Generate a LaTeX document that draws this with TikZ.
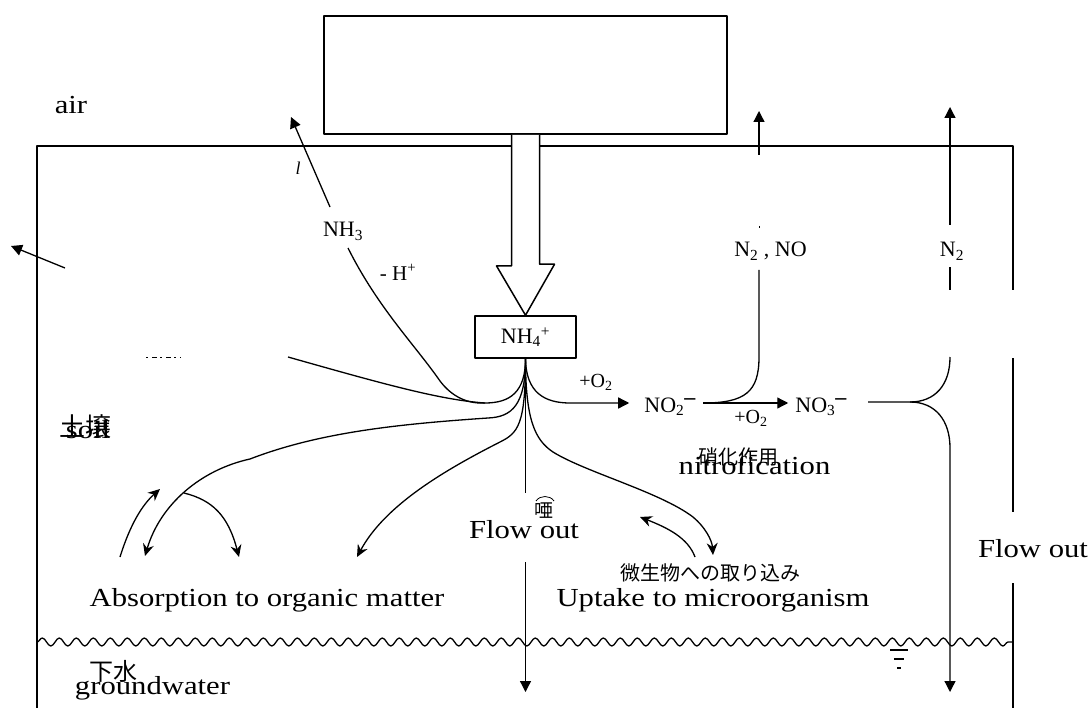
\documentclass[tikz,border=0pt]{standalone}
\usepackage{fontspec}
\setmainfont{Liberation Serif}
\newfontfamily\widefont[FakeStretch=1.18]{Liberation Serif}
\newfontfamily\jpfont{Noto Sans CJK JP}
\usetikzlibrary{arrows.meta,decorations.pathmorphing}

\tikzset{
  biglabel/.style={font=\widefont\fontsize{26}{28}\selectfont, inner sep=0pt},
  chemlabel/.style={font=\fontsize{22}{24}\selectfont, inner sep=0pt},
  smalllabel/.style={font=\fontsize{20}{22}\selectfont, inner sep=0pt},
  jplabel/.style={font=\jpfont\fontsize{20}{22}\selectfont, inner sep=0pt},
  flow/.style={line width=1.3pt},
  tri/.style={flow, -{Triangle[length=11pt,width=11pt]}},
  stk/.style={flow, -{Stealth[length=12pt,width=11pt,inset=4pt]}},
}

\begin{document}
\begin{tikzpicture}[x=1pt, y=-1pt, line join=round]
    \useasboundingbox (0,0) rectangle (1091,708);

    % 1. 土壌の枠と地下水面
    \draw[line width=1.5pt] (37,708) -- (37,146) -- (1013,146) -- (1013,290);
    \draw[line width=1.5pt] (1013,358) -- (1013,512);
    \draw[line width=1.5pt] (1013,583) -- (1013,708);
    \draw[flow, decorate, decoration={snake, segment length=17pt, amplitude=4pt}] (37,642) -- (1013,642);
    \draw[line width=2pt] (890,650) -- (908,650);
    \draw[line width=2pt] (894,659) -- (904,659);
    \draw[line width=2pt] (897,668) -- (901,668);

    % 2. 箱と白抜き矢印
    \node[draw, line width=1.8pt, minimum width=403pt, minimum height=118pt, inner sep=0pt] (source) at (525.5,75) {};
    \node[draw, line width=1.5pt, minimum width=101pt, minimum height=42pt, chemlabel] (ammonium) at (525.5,337) {NH\textsubscript{4}\textsuperscript{+}};
    \draw[line width=1.5pt, fill=white] ([xshift=-14pt]source.south) -- ++(0,131) -- ++(-15,0)
        -- (ammonium.north) -- ++(29,-51) -- ++(-15,0) -- ([xshift=14pt]source.south);

    % 3. 座標
    \coordinate (root) at (ammonium.south);
    \coordinate (fA) at (485,403);
    \coordinate (fB) at (488,418);
    \coordinate (nh3lo) at (348,248);
    \coordinate (nh3hi) at (330,207);
    \coordinate (nh3tip) at (291,117);
    \coordinate (westend) at (288,357);
    \coordinate (westhi) at (65,268);
    \coordinate (westtip) at (11,246);
    \coordinate (absB) at (184,493);
    \coordinate (tipA) at (145,556);
    \coordinate (tipB) at (239,557);
    \coordinate (upS) at (120,557);
    \coordinate (upT) at (160,489);
    \coordinate (tipC) at (357,557);
    \coordinate (down1) at (525.5,493);
    \coordinate (down2) at (525.5,562);
    \coordinate (downtip) at (525.5,692);
    \coordinate (tipD) at (713,555);
    \coordinate (backS) at (695,557);
    \coordinate (backT) at (640,517);
    \coordinate (nitS) at (570,403);
    \coordinate (nitE) at (703,403);
    \coordinate (dnTop) at (759,270);
    \coordinate (dnS) at (759,155);
    \coordinate (dnTip) at (759,111);
    \coordinate (nitrE) at (868,402);
    \coordinate (splitR) at (910,402);
    \coordinate (rUp) at (950,357);
    \coordinate (rDown) at (950,448);
    \coordinate (rTip) at (950,692);
    \coordinate (n2a) at (950,290);
    \coordinate (n2b) at (950,267);
    \coordinate (n2c) at (950,225);
    \coordinate (n2tip) at (950,107);

    % 4. 文字
    \node[biglabel, anchor=base] (air) at (71,114) {air};
    \node[smalllabel, anchor=base, font=\itshape\fontsize{18}{20}\selectfont] (mark) at (298,175) {l};
    \node[chemlabel, anchor=base] (nh3) at (343,237) {NH\textsubscript{3}};
    \node[smalllabel, anchor=base, font=\fontsize{21}{22}\selectfont] (deprot) at (398,280) {- H\textsuperscript{+}};
    \node[smalllabel, anchor=base] (oxA) at (596,387) {+O\textsubscript{2}};
    \node[smalllabel, anchor=base] (oxB) at (751,423) {+O\textsubscript{2}};
    \node[chemlabel, anchor=base] (nitrite) at (670,412) {NO\textsubscript{2}\raisebox{8pt}{\textbf{–}}};
    \node[chemlabel, anchor=base] (nitrate) at (821,412) {NO\textsubscript{3}\raisebox{8pt}{\textbf{–}}};
    \node[chemlabel, anchor=base] (n2no) at (770.5,257) {N\textsubscript{2} , NO};
    \node[chemlabel, anchor=base] (n2) at (952,257) {N\textsubscript{2}};
    \node[jplabel, font=\jpfont\fontsize{26}{28}\selectfont] (soiljp) at (85,427) {土壌};
    \node[biglabel, anchor=base] (soil) at (88,438) {soil};
    \node[biglabel, anchor=base] (nitrif) at (754.5,474) {nitrofication};
    \node[jplabel] (nitrifjp) at (738,457) {硝化作用};
    \node[jplabel] (uptakejp) at (710,573) {微生物への取り込み};
    \node[jplabel, font=\jpfont\fontsize{19}{20}\selectfont] (flowjp) at (544,511) {唖};
    \node[biglabel, anchor=base] (flowC) at (524,538) {Flow out};
    \node[biglabel, anchor=base] (flowR) at (1033,557) {Flow out};
    \node[biglabel, anchor=base] (absorb) at (267,606) {Absorption to organic matter};
    \node[biglabel, anchor=base] (uptake) at (713,606) {Uptake to microorganism};
    \node[jplabel, font=\jpfont\fontsize{24}{26}\selectfont] (gwjp) at (113,671) {下水};
    \node[biglabel, anchor=base] (gw) at (152.5,694) {groundwater};
    \draw[line width=0.8pt] (536,501) .. controls (540,495) and (550,495) .. (554,501);
    \draw[line width=1pt, dash pattern=on 2pt off 4pt on 5pt off 3pt] (146,357) -- (181,357);
    \draw[line width=1pt] (759,226) -- (759,228);

    % 5. NH4+ から出る線
    \draw[flow] (root) .. controls (525.5,392) and (510,403) .. (fA);
    \draw[flow] (nh3lo) .. controls (378,308) and (415,345) .. (440,381) .. controls (452,397) and (468,404) .. (fA);
    \draw[flow] (westend) .. controls (380,383) and (440,400) .. (fA);
    \draw[tri] (nh3hi) -- (nh3tip);
    \draw[tri] (westhi) -- (westtip);
    \draw[stk] (root) .. controls (525.5,405) and (512,417) .. (fB) .. controls (400,424) and (320,432) .. (250,459)
        .. controls (200,470) and (160,505) .. (tipA);
    \draw[stk] (absB) .. controls (212,500) and (228,515) .. (tipB);
    \draw[stk] (upS) .. controls (130,525) and (142,505) .. (upT);
    \draw[stk] (root) .. controls (525.5,425) and (518,433) .. (500,442) .. controls (445,470) and (385,505) .. (tipC);
    \draw[flow] (root) -- (down1);
    \draw[tri] (down2) -- (downtip);
    \draw[stk] (root) .. controls (525.5,420) and (535,440) .. (553,452) .. controls (585,472) and (660,492) .. (693,517)
        .. controls (705,527) and (712,540) .. (tipD);
    \draw[stk] (backS) .. controls (688,538) and (668,528) .. (backT);

    % 6. 硝化と脱窒
    \draw[tri, shorten >=15pt] (root) .. controls (526,393) and (545,403) .. (nitS) -- (nitS -| nitrite.west);
    \draw[tri, shorten >=7pt] (nitE) -- (nitE -| nitrate.west);
    \draw[flow] (nitE) .. controls (745,403) and (759,392) .. (759,357) -- (dnTop);
    \draw[tri] (dnS) -- (dnTip);
    \draw[flow] (nitrE) -- (splitR) .. controls (935,402) and (950,385) .. (rUp);
    \draw[tri] (splitR) .. controls (935,402) and (950,420) .. (rDown) -- (rTip);
    \draw[flow] (n2a) -- (n2b);
    \draw[tri] (n2c) -- (n2tip);

\end{tikzpicture}
\end{document}
